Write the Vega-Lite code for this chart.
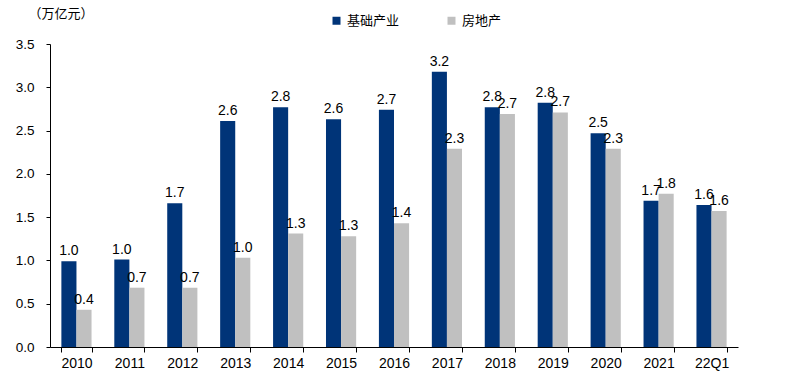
{
  "$schema": "https://vega.github.io/schema/vega-lite/v6.json",
  "autosize": "none",
  "width": 688,
  "height": 303,
  "padding": {"left": 50, "top": 44, "right": 52, "bottom": 33},
  "background": "white",
  "config": {"view": {"stroke": null}, "font": "Liberation Sans"},
  "data": {
    "values": [
      {"year": "2010", "series": "基础产业", "value": 0.99},
      {"year": "2010", "series": "房地产", "value": 0.43},
      {"year": "2011", "series": "基础产业", "value": 1.01},
      {"year": "2011", "series": "房地产", "value": 0.685},
      {"year": "2012", "series": "基础产业", "value": 1.66},
      {"year": "2012", "series": "房地产", "value": 0.685},
      {"year": "2013", "series": "基础产业", "value": 2.61},
      {"year": "2013", "series": "房地产", "value": 1.03},
      {"year": "2014", "series": "基础产业", "value": 2.77},
      {"year": "2014", "series": "房地产", "value": 1.31},
      {"year": "2015", "series": "基础产业", "value": 2.63},
      {"year": "2015", "series": "房地产", "value": 1.28},
      {"year": "2016", "series": "基础产业", "value": 2.74},
      {"year": "2016", "series": "房地产", "value": 1.43},
      {"year": "2017", "series": "基础产业", "value": 3.18},
      {"year": "2017", "series": "房地产", "value": 2.29},
      {"year": "2018", "series": "基础产业", "value": 2.77},
      {"year": "2018", "series": "房地产", "value": 2.69},
      {"year": "2019", "series": "基础产业", "value": 2.82},
      {"year": "2019", "series": "房地产", "value": 2.71},
      {"year": "2020", "series": "基础产业", "value": 2.47},
      {"year": "2020", "series": "房地产", "value": 2.29},
      {"year": "2021", "series": "基础产业", "value": 1.69},
      {"year": "2021", "series": "房地产", "value": 1.77},
      {"year": "22Q1", "series": "基础产业", "value": 1.64},
      {"year": "22Q1", "series": "房地产", "value": 1.57}
    ]
  },
  "encoding": {
    "x": {
      "field": "year", "type": "nominal", "sort": null,
      "scale": {"paddingInner": 0.43, "paddingOuter": 0.215},
      "axis": {
        "title": null, "labelAngle": 0, "labelFontSize": 14, "labelColor": "#000000",
        "domainColor": "#000000", "tickColor": "#000000", "tickSize": 5,
        "tickBand": "extent", "labelPadding": 4
      }
    },
    "xOffset": {"field": "series", "type": "nominal", "sort": ["基础产业", "房地产"]},
    "y": {
      "field": "value", "type": "quantitative",
      "scale": {"domain": [0, 3.5]},
      "axis": {
        "title": "（万亿元）", "titleAngle": 0, "titleX": -22, "titleY": -31,
        "titleAlign": "left", "titleBaseline": "middle", "titleFont": "Noto Sans CJK SC",
        "titleFontSize": 13, "titleFontWeight": "normal", "titleColor": "#000000",
        "values": [0, 0.5, 1, 1.5, 2, 2.5, 3, 3.5], "format": ".1f",
        "grid": false, "labelFontSize": 13.5, "labelColor": "#000000",
        "domainColor": "#000000", "tickColor": "#000000", "tickSize": 4, "labelPadding": 12
      }
    }
  },
  "layer": [
    {
      "mark": {"type": "bar"},
      "encoding": {
        "color": {
          "field": "series", "type": "nominal",
          "scale": {"domain": ["基础产业", "房地产"], "range": ["#003478", "#C0C0C0"]},
          "legend": {
            "title": null, "orient": "none", "direction": "horizontal",
            "legendX": 280, "legendY": -30, "symbolType": "square", "symbolSize": 64,
            "symbolStrokeWidth": 0, "labelFont": "Noto Sans CJK SC", "labelFontSize": 13,
            "labelColor": "#000000", "columnPadding": 45, "labelOffset": 4
          }
        }
      }
    },
    {
      "mark": {"type": "text", "dy": -10, "fontSize": 14, "color": "#000000"},
      "encoding": {"text": {"field": "value", "type": "quantitative", "format": ".1f"}}
    }
  ]
}
